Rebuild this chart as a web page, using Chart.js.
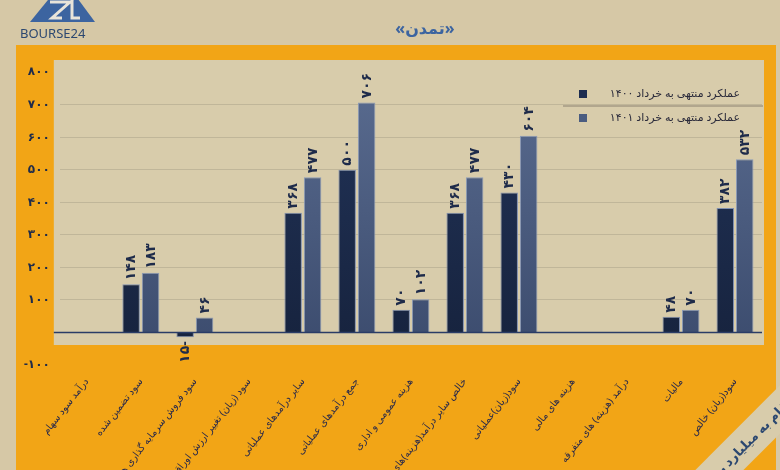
<!DOCTYPE html><html><head><meta charset="utf-8">
<script src="https://cdn.jsdelivr.net/npm/chart.js@4"></script>
<style>html,body{margin:0;padding:0;background:#d6c8a6}</style></head><body>
<canvas id="c" width="780" height="470"></canvas>
<script>
const categories=["درآمد سود سهام","سود تضمین شده","سود فروش سرمایه گذاری ها","سود (زیان) تغییر ارزش اوراق بهادار","سایر درآمدهای عملیاتی","جمع درآمدهای عملیاتی","هزینه عمومی و اداری","خالص سایر درآمد(هزینه)های عملیاتی","سود(زیان)عملیاتی","هزینه های مالی","درآمد (هزینه) های متفرقه","مالیات","سود(زیان) خالص"];
const s1400=[0,148,-15,0,368,500,70,368,430,0,0,48,382];
const s1401=[0,183,46,0,477,706,102,477,604,0,0,70,532];
const seriesNames=["عملکرد منتهی به خرداد ۱۴۰۰","عملکرد منتهی به خرداد ۱۴۰۱"];
const fa=n=>String(n).replace(/\d/g,d=>"۰۱۲۳۴۵۶۷۸۹"[d]);
const F="'Noto Sans','DejaVu Sans',sans-serif";
const deco={id:'deco',beforeDraw(ch){const c=ch.ctx,a=ch.chartArea;c.save();
c.fillStyle='#d6c8a6';c.fillRect(0,0,780,470);
c.fillStyle='#f2a516';c.fillRect(16,45,760,425);
c.fillStyle='#d8ccab';c.fillRect(a.left-6,a.top-12,a.right-a.left+8,a.bottom-a.top-8);
c.fillStyle='#3c64a0';c.beginPath();c.moveTo(30,22);c.lineTo(52,-5);c.lineTo(75,-5);c.lineTo(95,22);c.closePath();c.fill();
c.strokeStyle='#e8e4da';c.lineWidth=3;c.beginPath();c.moveTo(50,2);c.lineTo(70,2);c.lineTo(52,18);c.lineTo(62,18);c.moveTo(72,-2);c.lineTo(72,18);c.lineTo(80,18);c.stroke();
c.fillStyle='#2c4870';c.font="13px "+F;c.textAlign='left';c.fillText('BOURSE24',20,38);
c.fillStyle='#3c64a0';c.font="bold 16px "+F;c.textAlign='center';c.fillText('«تمدن»',425,34);
c.restore();},
afterDraw(ch){const c=ch.ctx,a=ch.chartArea,y=ch.scales.y;c.save();
c.strokeStyle='#2a3c66';c.lineWidth=1.5;const z=y.getPixelForValue(0);c.beginPath();c.moveTo(a.left-6,z);c.lineTo(a.right,z);c.stroke();
c.font="bold 14px "+F;c.fillStyle='#1e2b4a';
[0,1].forEach(i=>{ch.getDatasetMeta(i).data.forEach((b,j)=>{const v=ch.data.datasets[i].data[j];if(!v)return;
c.save();c.translate(b.x,v>0?b.y-4:b.y+4);c.rotate(-Math.PI/2);c.textAlign=v>0?'left':'right';c.textBaseline='middle';c.fillText(fa(Math.abs(v))+(v<0?'-':''),0,0);c.restore();});});
c.strokeStyle='#8a8070';c.lineWidth=1;c.beginPath();c.moveTo(563,106);c.lineTo(763,106);c.stroke();
c.font="11px "+F;c.textAlign='right';c.textBaseline='middle';
['#1c2c50','#4a5c80'].forEach((col,i)=>{const yy=94+i*24;c.fillStyle=col;c.fillRect(579,yy-4,8,8);c.fillStyle='#2a2a3a';c.fillText(seriesNames[i],740,yy);});
c.translate(748,440);c.rotate(-Math.PI/4);c.fillStyle='#d8ccab';c.fillRect(-75,-16,150,34);c.fillStyle='#2c4870';c.font="bold 13px "+F;c.textAlign='center';c.fillText('ارقام به میلیارد ریال',0,2);
c.restore();}};
function grad(ctx,a,b){const ch=ctx.chart;if(!ch.chartArea)return a;const g=ch.ctx.createLinearGradient(0,ch.chartArea.top,0,ch.chartArea.bottom);g.addColorStop(0,a);g.addColorStop(1,b);return g;}
new Chart(document.getElementById('c'),{type:'bar',
data:{labels:categories,datasets:[
{label:seriesNames[0],data:s1400,backgroundColor:c=>grad(c,'#22345a','#16223c'),borderColor:'#8090b0',borderWidth:1,categoryPercentage:0.72,barPercentage:0.9},
{label:seriesNames[1],data:s1401,backgroundColor:c=>grad(c,'#5a6c90','#3a4a6c'),borderColor:'#8a9ab8',borderWidth:1,categoryPercentage:0.72,barPercentage:0.9}]},
options:{responsive:false,animation:false,layout:{padding:{left:14,right:18,top:72,bottom:0}},
plugins:{legend:{display:false},tooltip:{enabled:false}},
scales:{y:{min:-100,max:800,ticks:{stepSize:100,color:'#1e2b4a',padding:10,font:{family:F,size:12,weight:'bold'},callback:v=>v===0?'':(v<0?'-':'')+fa(Math.abs(v))},grid:{color:c=>(c.tick.value<=0||c.tick.value>=800)?'rgba(0,0,0,0)':'rgba(150,140,120,0.35)',drawTicks:false},border:{display:false}},
x:{afterFit:s=>{s.height=105;},ticks:{color:'#2a2a4a',font:{family:F,size:10},minRotation:52,maxRotation:52,autoSkip:false},grid:{display:false},border:{display:false}}}},
plugins:[deco]});
</script></body></html>
